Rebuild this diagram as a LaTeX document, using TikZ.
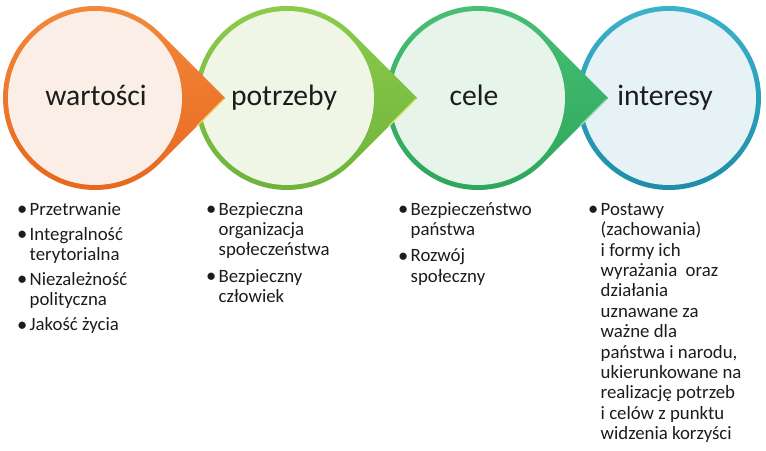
\documentclass[tikz,border=0pt]{standalone}
\usepackage{fontspec}
\setmainfont{Carlito}
\definecolor{oTop}{HTML}{F28A3C}\definecolor{oBot}{HTML}{E8661E}\definecolor{oIn}{HTML}{FBEEE6}\definecolor{oHi}{HTML}{F8CF6A}
\definecolor{lTop}{HTML}{8ECC4C}\definecolor{lBot}{HTML}{6CB23A}\definecolor{lIn}{HTML}{EFF6E5}\definecolor{lHi}{HTML}{E2E86A}
\definecolor{gTop}{HTML}{48BF74}\definecolor{gBot}{HTML}{2CA65B}\definecolor{gIn}{HTML}{E7F4EA}\definecolor{gHi}{HTML}{A6DDB0}
\definecolor{cTop}{HTML}{3BB2CA}\definecolor{cBot}{HTML}{1E8EA8}\definecolor{cIn}{HTML}{E6F2F6}
\definecolor{txt}{HTML}{1C1C1C}
\tikzset{
  inner/.style={circle, minimum size=174pt, inner sep=0pt},
  lbl/.style={anchor=base, text=txt, font=\fontsize{29.6}{34}\selectfont, inner sep=0pt},
  lst/.style={anchor=north west, align=left, text=txt, font=\fontsize{18.8}{20.4}\selectfont, inner sep=0pt},
}
\newcommand\bul{\makebox[12.5pt][l]{\raisebox{-0.3pt}{\fontsize{20.5}{20}\selectfont •}}}
\newcommand\ind{\hspace*{12.5pt}}
\newcommand\tp{\rule{0pt}{14pt}}
\begin{document}
\begin{tikzpicture}[x=1pt,y=1pt]
\useasboundingbox (0,0) rectangle (766,450);
% circle 4 (cyan)
\shade[top color=cTop, bottom color=cBot] (669,352) circle[radius=92];
\node[inner, fill=cIn] (c4) at (669,352) {};
% circle 3 (green)
\shade[top color=gTop, bottom color=gBot] (478,352) ++(45:92) arc[start angle=45,end angle=315,radius=92] -- (608.1,352) -- cycle;
\node[inner, fill=gIn] (c3) at (478,352) {};
\draw[gHi, line width=1.2pt] (607,351) -- (580,324);
% circle 2 (lime)
\shade[top color=lTop, bottom color=lBot] (287,352) ++(45:92) arc[start angle=45,end angle=315,radius=92] -- (417.1,352) -- cycle;
\node[inner, fill=lIn] (c2) at (287,352) {};
\draw[lHi, line width=1.2pt] (416,351) -- (389,324);
% circle 1 (orange)
\shade[top color=oTop, bottom color=oBot] (95,352) ++(45:92) arc[start angle=45,end angle=315,radius=92] -- (225.1,352) -- cycle;
\node[inner, fill=oIn] (c1) at (95,352) {};
\draw[oHi, line width=1.2pt] (224,351) -- (197,324);
% labels
\node[lbl] (t1) at (96,344) {wartości};
\node[lbl] (t2) at (284,344) {potrzeby};
\node[lbl] (t3) at (474,344) {cele};
\node[lbl] (t4) at (665,344) {interesy};
% lists
\node[lst] (l1) at (17,249) {\tp\bul Przetrwanie\\[4.6pt]
\bul Integralność\\ \ind terytorialna\\[4.6pt]
\bul Niezależność\\ \ind polityczna\\[4.6pt]
\bul Jakość życia};
\node[lst] (l2) at (206,249) {\tp\bul Bezpieczna\\ \ind organizacja\\ \ind społeczeństwa\\[6pt]
\bul Bezpieczny\\ \ind człowiek};
\node[lst] (l3) at (398,249) {\tp\bul Bezpieczeństwo\\ \ind państwa\\[6pt]
\bul Rozwój\\ \ind społeczny};
\node[lst] (l4) at (588,249) {\tp\bul Postawy\\ \ind (zachowania)\\ \ind i formy ich\\ \ind wyrażania\ \ oraz\\ \ind działania\\ \ind uznawane za\\ \ind ważne dla\\ \ind państwa i narodu,\\ \ind ukierunkowane na\\ \ind realizację potrzeb\\ \ind i celów z punktu\\ \ind widzenia korzyści};
\end{tikzpicture}
\end{document}
